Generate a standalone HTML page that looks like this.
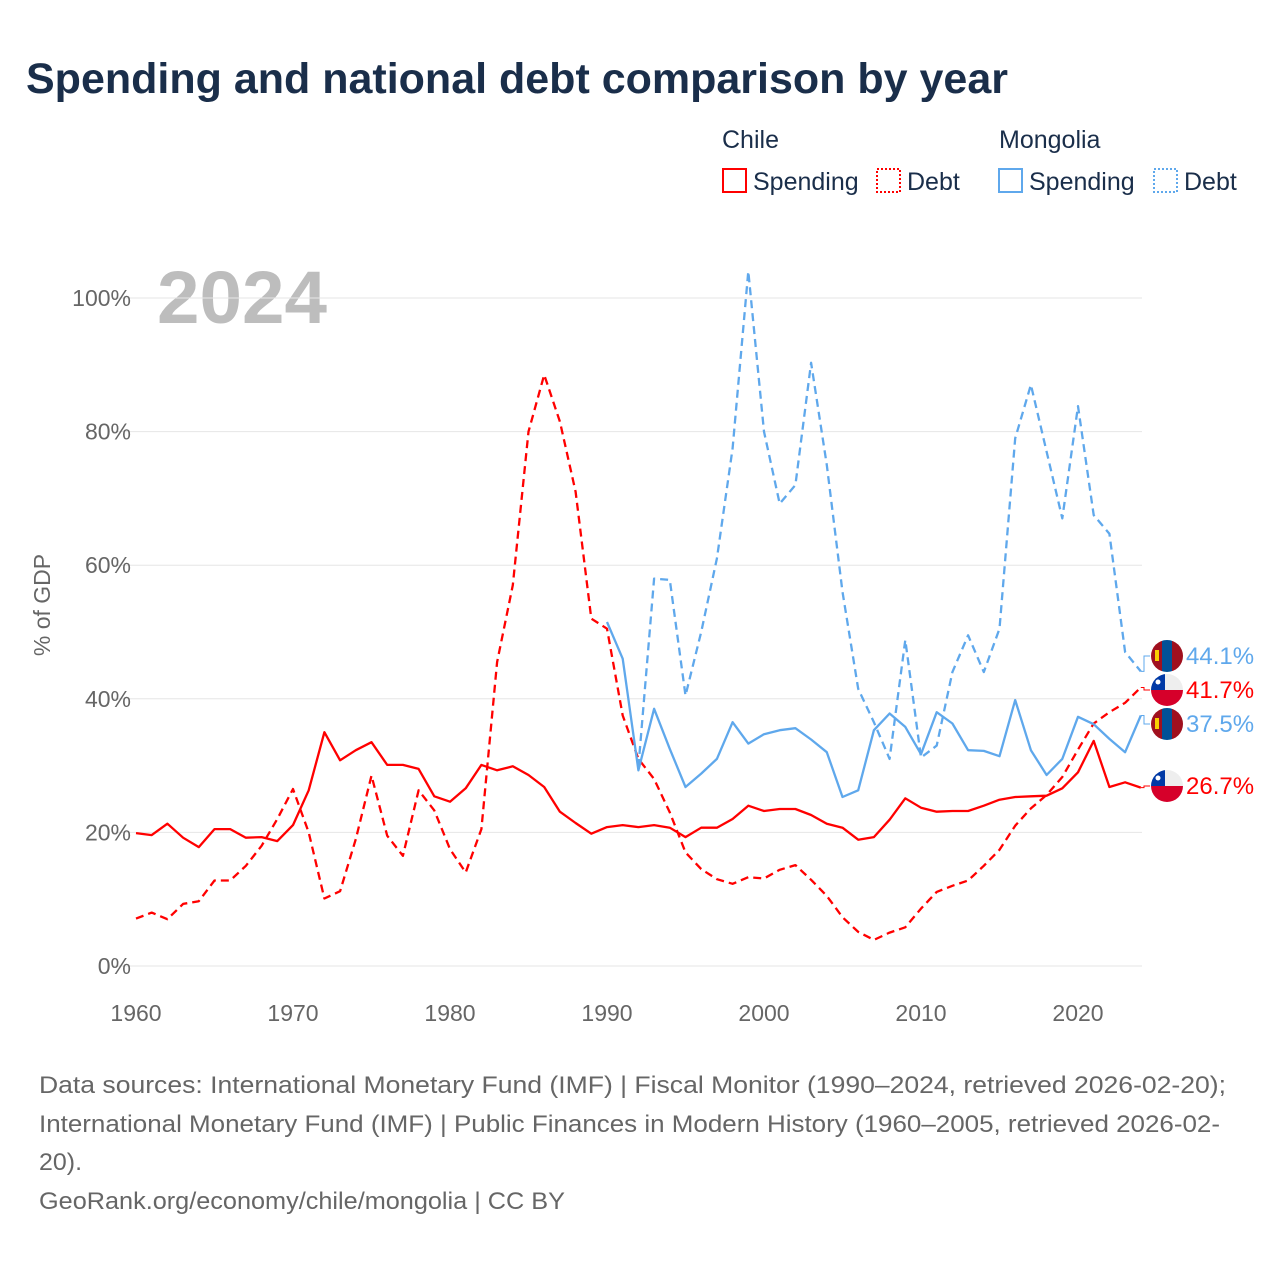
<!DOCTYPE html>
<html><head><meta charset="utf-8">
<style>
body{margin:0;background:#fff;}
svg{display:block;font-family:"Liberation Sans",sans-serif;}
</style></head>
<body>
<svg id="chart" width="1280" height="1280" viewBox="0 0 1280 1280">
<defs>
<clipPath id="cc1"><circle cx="0" cy="0" r="16"/></clipPath>
</defs>
<text x="26" y="93" font-size="43" font-weight="bold" fill="#1a2e4a" textLength="982" lengthAdjust="spacingAndGlyphs">Spending and national debt comparison by year</text>
<g font-size="25" fill="#1a2e4a">
<text x="722" y="148">Chile</text>
<text x="999" y="148">Mongolia</text>
<g><rect x="723" y="169" width="23" height="23" fill="none" stroke="#ff0000" stroke-width="2"/><text x="753" y="190">Spending</text></g>
<g><rect x="877" y="169" width="23" height="23" fill="none" stroke="#ff0000" stroke-width="2" stroke-dasharray="2 2"/><text x="907" y="190">Debt</text></g>
<g><rect x="999" y="169" width="23" height="23" fill="none" stroke="#5fa8ec" stroke-width="2"/><text x="1029" y="190">Spending</text></g>
<g><rect x="1154" y="169" width="23" height="23" fill="none" stroke="#5fa8ec" stroke-width="2" stroke-dasharray="2 2"/><text x="1184" y="190">Debt</text></g>
</g>
<text x="157" y="323" font-size="74" font-weight="bold" fill="#bdbdbd" textLength="170" lengthAdjust="spacingAndGlyphs">2024</text>
<text transform="translate(50,605) rotate(-90)" text-anchor="middle" font-size="23" fill="#666">% of GDP</text>
<g id="grid"></g>
<g id="series"></g>
<g id="ends"></g>
<g font-size="24" fill="#666">
<text x="39" y="1093" textLength="1187" lengthAdjust="spacingAndGlyphs">Data sources: International Monetary Fund (IMF) | Fiscal Monitor (1990–2024, retrieved 2026-02-20);</text>
<text x="39" y="1132" textLength="1181" lengthAdjust="spacingAndGlyphs">International Monetary Fund (IMF) | Public Finances in Modern History (1960–2005, retrieved 2026-02-</text>
<text x="39" y="1170" textLength="43" lengthAdjust="spacingAndGlyphs">20).</text>
<text x="39" y="1209" textLength="526" lengthAdjust="spacingAndGlyphs">GeoRank.org/economy/chile/mongolia | CC BY</text>
</g>
</svg>
<script>
const chileYears=[];for(let y=1960;y<=2024;y++)chileYears.push(y);
const mongSpendYears=[];for(let y=1990;y<=2024;y++)mongSpendYears.push(y);
const mongDebtYears=[];for(let y=1992;y<=2024;y++)mongDebtYears.push(y);
const chileSpending=[19.9,19.6,21.3,19.2,17.8,20.5,20.5,19.2,19.3,18.7,21.1,26.3,35.0,30.8,32.3,33.5,30.1,30.1,29.5,25.4,24.6,26.6,30.1,29.3,29.9,28.6,26.8,23.1,21.4,19.8,20.8,21.1,20.8,21.1,20.7,19.3,20.7,20.7,22.0,24.0,23.2,23.5,23.5,22.6,21.3,20.7,18.9,19.3,21.9,25.1,23.7,23.1,23.2,23.2,24.0,24.9,25.3,25.4,25.5,26.6,29.0,33.7,26.8,27.5,26.7];
const chileDebt=[7.1,8.0,7.0,9.3,9.7,12.8,12.8,15.0,18.0,22.0,26.5,20.0,10.1,11.2,19.0,28.5,19.5,16.5,26.3,23.3,17.5,14.0,20.5,45.5,57.0,80.0,88.5,81.5,71.0,52.0,50.5,37.5,31.0,28.0,23.0,17.0,14.5,13.0,12.3,13.3,13.1,14.4,15.1,12.9,10.5,7.3,5.1,3.9,5.0,5.8,8.6,11.1,12.0,12.8,15.0,17.4,21.0,23.6,25.6,28.3,32.4,36.3,38.0,39.4,41.7];
const mongSpending=[51.5,46.0,29.3,38.5,32.5,26.8,28.8,31.0,36.5,33.3,34.7,35.3,35.6,33.9,32.0,25.3,26.3,35.3,37.8,35.8,31.7,38.0,36.3,32.3,32.2,31.4,39.8,32.3,28.6,31.0,37.3,36.2,34.0,32.0,37.5];
const mongDebt=[29.8,58.0,57.8,40.5,50.0,61.0,77.5,104.0,80.0,69.2,72.0,90.3,75.0,56.0,41.5,36.5,31.0,48.8,31.2,33.0,44.0,49.5,44.0,50.5,79.0,87.0,77.0,67.0,83.8,67.5,64.7,47.0,44.1];
const yTicks=[0,20,40,60,80,100];
const xTicks=[1960,1970,1980,1990,2000,2010,2020];
const NS="http://www.w3.org/2000/svg";
const X=yr=>136+(yr-1960)*(1078-136)/60;
const Y=v=>966-v*6.68;
function mk(tag,attrs,parent){const e=document.createElementNS(NS,tag);for(const k in attrs)e.setAttribute(k,attrs[k]);parent.appendChild(e);return e;}
const grid=document.getElementById('grid');
yTicks.forEach(t=>{
  const l=mk('line',{x1:112,x2:1142,y1:Y(t),y2:Y(t),stroke:'#e6e6e6','stroke-width':1},grid);
  
  
  const tx=mk('text',{x:131,y:Y(t)+8,'text-anchor':'end','font-size':23,fill:'#666'},grid);
  tx.textContent=t+'%';
  
  
});
xTicks.forEach(t=>{
  const tx=mk('text',{x:X(t),y:1021,'text-anchor':'middle','font-size':23,fill:'#666'},grid);
  tx.textContent=t;
  
  
});
const ser=document.getElementById('series');
function line(years,vals,color,dash,name){
  const d=vals.map((v,i)=>(i?'L':'M')+X(years[i]).toFixed(1)+','+Y(v).toFixed(1)).join('');
  const p=mk('path',{d:d,fill:'none',stroke:color,'stroke-width':2.3,'stroke-linejoin':'round'},ser);
  if(dash)p.setAttribute('stroke-dasharray','8 5');
  
  
}
line(chileYears,chileDebt,'#ff0000',true,'chile-debt-line');
line(chileYears,chileSpending,'#ff0000',false,'chile-spending-line');
line(mongDebtYears,mongDebt,'#5fa8ec',true,'mongolia-debt-line');
line(mongSpendYears,mongSpending,'#5fa8ec',false,'mongolia-spending-line');
const ends=document.getElementById('ends');
const endItems=[
 {v:mongDebt[mongDebt.length-1],c:'#5fa8ec',f:'mn',ly:656,n:'mongolia-debt'},
 {v:chileDebt[chileDebt.length-1],c:'#ff0000',f:'cl',ly:690,n:'chile-debt'},
 {v:mongSpending[mongSpending.length-1],c:'#5fa8ec',f:'mn',ly:724,n:'mongolia-spending'},
 {v:chileSpending[chileSpending.length-1],c:'#ff0000',f:'cl',ly:786,n:'chile-spending'}];
endItems.forEach(it=>{
  const g=mk('g',{},ends);
  
  
  const x0=X(2024),y0=Y(it.v);
  mk('path',{d:`M${x0},${y0}L1144,${y0}L1144,${it.ly}L1150,${it.ly}`,fill:'none',stroke:it.c,'stroke-width':1},g);
  const fg=mk('g',{transform:`translate(1167,${it.ly})`,'clip-path':'url(#cc1)'},g);
  if(it.f==='mn'){
    mk('rect',{x:-16,y:-16,width:11,height:32,fill:'#a0101e'},fg);
    mk('rect',{x:-5,y:-16,width:10,height:32,fill:'#015197'},fg);
    mk('rect',{x:5,y:-16,width:11,height:32,fill:'#a0101e'},fg);
    mk('rect',{x:-12,y:-6,width:4,height:11,fill:'#f9cf02'},fg);
  }else{
    mk('rect',{x:-16,y:-16,width:32,height:16,fill:'#eeeeee'},fg);
    mk('rect',{x:-16,y:0,width:32,height:16,fill:'#d6002a'},fg);
    mk('rect',{x:-16,y:-16,width:14,height:16,fill:'#0039a6'},fg);
    mk('circle',{cx:-9,cy:-8,r:2.5,fill:'#fff'},fg);
  }
  const t=mk('text',{x:1186,y:it.ly+8,'font-size':24,fill:it.c},g);
  t.textContent=it.v.toFixed(1)+'%';
});
</script>
</body></html>
